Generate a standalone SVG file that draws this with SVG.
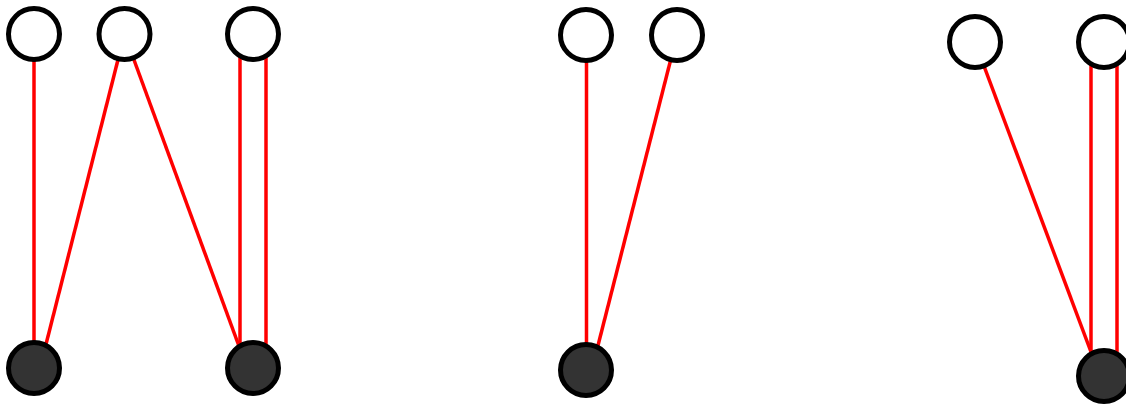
<svg xmlns="http://www.w3.org/2000/svg" width="1126" height="404" viewBox="0 0 1126 404">
<style>
.e{stroke:#ff0000;stroke-width:3.5;fill:none}
.t{fill:#ffffff;stroke:#000000;stroke-width:5}
.b{fill:#333333;stroke:#000000;stroke-width:5}
</style>
<rect width="1126" height="404" fill="#ffffff"/>
<g id="connectors">
<line class="e" x1="34" y1="34" x2="34" y2="368"/>
<line class="e" x1="124.5" y1="34" x2="40" y2="368"/>
<line class="e" x1="124.5" y1="34" x2="247" y2="368"/>
<line class="e" x1="240" y1="34" x2="240" y2="368"/>
<line class="e" x1="266" y1="34" x2="266" y2="368"/>
<line class="e" x1="586.5" y1="35" x2="586.5" y2="369"/>
<line class="e" x1="677" y1="35" x2="592" y2="369"/>
<line class="e" x1="975" y1="42" x2="1100" y2="376"/>
<line class="e" x1="1091" y1="42" x2="1091" y2="376"/>
<line class="e" x1="1117" y1="42" x2="1117" y2="376"/>
</g>
<g id="n1"><circle class="t" cx="34" cy="34" r="25.5"/></g>
<g id="n2"><circle class="t" cx="124.5" cy="34" r="25.5"/></g>
<g id="n3"><circle class="t" cx="253" cy="34" r="25.5"/></g>
<g id="n4"><circle class="b" cx="34" cy="368" r="25.5"/></g>
<g id="n5"><circle class="b" cx="253" cy="368" r="25.5"/></g>
<g id="n6"><circle class="t" cx="586" cy="35" r="25.5"/></g>
<g id="n7"><circle class="t" cx="677" cy="35" r="25.5"/></g>
<g id="n8"><circle class="b" cx="586" cy="370" r="25.5"/></g>
<g id="n9"><circle class="t" cx="975" cy="42" r="25.5"/></g>
<g id="n10"><circle class="t" cx="1104" cy="42" r="25.5"/></g>
<g id="n11"><circle class="b" cx="1104" cy="376" r="25.5"/></g>
</svg>
